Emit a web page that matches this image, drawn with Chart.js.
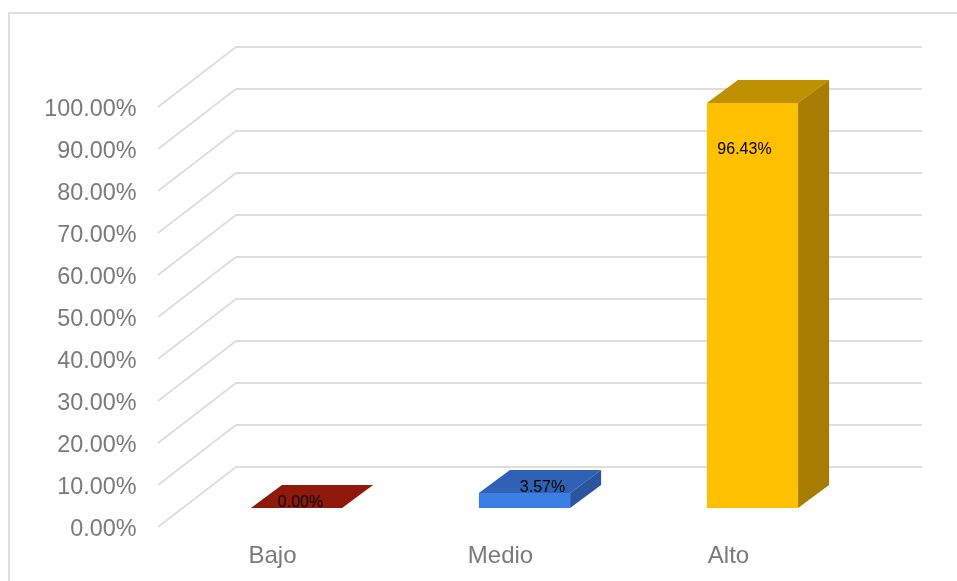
<!DOCTYPE html>
<html>
<head>
<meta charset="utf-8">
<title>Bajo Medio Alto</title>
<script src="https://cdn.jsdelivr.net/npm/chart.js@4/dist/chart.umd.min.js"></script>
<style>
    html, body { margin: 0; padding: 0; background: #fff; overflow: hidden; }
    #wrap { position: relative; width: 957px; height: 581px; overflow: hidden; }
    #frame { position: absolute; left: 8px; top: 12px; width: 1000px; height: 600px; border: 2px solid #dedede; box-sizing: border-box; }
    canvas { position: absolute; left: 0; top: 0; }
</style>
</head>
<body>
<div id="wrap">
    <div id="frame"></div>
    <canvas id="nivelChart" width="957" height="581"></canvas>
</div>
<script>
const categorias = ['Bajo', 'Medio', 'Alto'];
const porcentajes = [0.00, 3.57, 96.43];

const coloresFrente = ['#8f1a0b', '#3b7fe6', '#ffc000'];
const coloresTapa = ['#8f1a0b', '#2f62b5', '#bf9000'];
const coloresLado = ['#8f1a0b', '#2a559e', '#a67d00'];

// desplazamiento de cada etiqueta respecto a la cara frontal de la barra
const ajusteEtiquetas = [[4, -5], [18, -5], [-8, 47]];

// profundidad del efecto 3D, en pixeles
const FONDO_BARRA = { x: 31, y: -23 };
const PARED = { izq: 158, x: 236, der: 922, frente: 19, atras: -41 };

const efecto3d = {
    id: 'efecto3d',
    beforeDatasetsDraw(chart) {
        const ctx = chart.ctx;
        const escala = chart.scales.y;
        ctx.save();
        ctx.strokeStyle = '#dddddd';
        ctx.lineWidth = 1.8;
        escala.ticks.forEach(t => {
            const y = escala.getPixelForValue(t.value);
            ctx.beginPath();
            ctx.moveTo(PARED.izq, y + PARED.frente);
            ctx.lineTo(PARED.x, y + PARED.atras);
            ctx.lineTo(PARED.der, y + PARED.atras);
            ctx.stroke();
        });
        ctx.restore();
    },
    afterDatasetsDraw(chart) {
        const ctx = chart.ctx;
        const dx = FONDO_BARRA.x;
        const dy = FONDO_BARRA.y;
        const cara = (puntos, color) => {
            ctx.fillStyle = color;
            ctx.beginPath();
            puntos.forEach((p, i) => i ? ctx.lineTo(p[0], p[1]) : ctx.moveTo(p[0], p[1]));
            ctx.closePath();
            ctx.fill();
        };
        ctx.save();
        chart.getDatasetMeta(0).data.forEach((barra, i) => {
            const izq = barra.x - barra.width / 2;
            const der = barra.x + barra.width / 2;
            const arriba = barra.y;
            const abajo = barra.base;
            cara([[izq, arriba], [der, arriba], [der + dx, arriba + dy], [izq + dx, arriba + dy]], coloresTapa[i]);
            cara([[der, arriba], [der + dx, arriba + dy], [der + dx, abajo + dy], [der, abajo]], coloresLado[i]);
        });

        // etiquetas de porcentaje
        ctx.fillStyle = '#000';
        ctx.font = '16px "Liberation Sans"';
        ctx.textAlign = 'center';
        ctx.textBaseline = 'middle';
        chart.getDatasetMeta(0).data.forEach((barra, i) => {
            ctx.fillText(porcentajes[i].toFixed(2) + '%', barra.x + ajusteEtiquetas[i][0], barra.y + ajusteEtiquetas[i][1]);
        });
        ctx.restore();
    }
};

const chart = new Chart(document.getElementById('nivelChart').getContext('2d'), {
    type: 'bar',
    data: {
        labels: categorias,
        datasets: [{
            data: porcentajes,
            backgroundColor: coloresFrente,
            barPercentage: 0.4,
            categoryPercentage: 1
        }]
    },
    options: {
        responsive: false,
        animation: false,
        layout: { padding: { left: 0, top: 88, right: 90.5, bottom: 0 } },
        plugins: { legend: { display: false }, tooltip: { enabled: false } },
        scales: {
            x: {
                grid: { display: false },
                border: { display: false },
                afterFit: s => { s.height = 73; },
                ticks: {
                    color: '#7a7a7a',
                    font: { family: '"Liberation Sans"', size: 24 },
                    maxRotation: 0,
                    padding: 26,
                    labelOffset: -24
                }
            },
            y: {
                min: 0,
                max: 100,
                grid: { display: false },
                border: { display: false },
                afterFit: s => { s.width = 182.5; },
                ticks: {
                    stepSize: 10,
                    color: '#7a7a7a',
                    font: { family: '"Liberation Sans"', size: 23.4 },
                    padding: 38,
                    labelOffset: 22,
                    callback: v => v.toFixed(2) + '%'
                }
            }
        }
    },
    plugins: [efecto3d]
});
</script>
</body>
</html>
